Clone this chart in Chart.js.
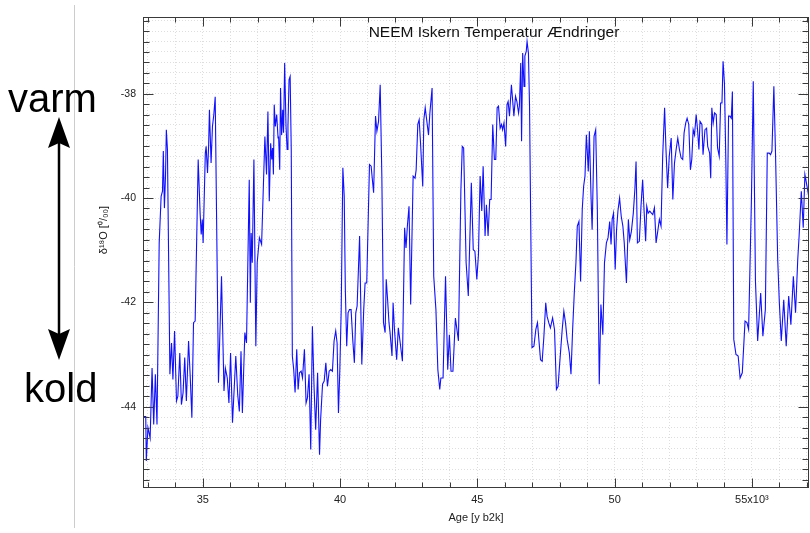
<!DOCTYPE html>
<html>
<head>
<meta charset="utf-8">
<title>NEEM Iskern Temperatur Ændringer</title>
<script src="https://cdn.jsdelivr.net/npm/chart.js@4.4.1/dist/chart.umd.min.js"></script>
<style>
  html, body { margin: 0; padding: 0; background: #fff; }
  #wrap { width: 810px; height: 533px; }
</style>
</head>
<body>
<div id="wrap"><canvas id="neemChart" width="810" height="533"></canvas></div>
<script>
'use strict';

// Data (age in ka b2k, d18O in permil)

let ages = [
  32.82, 32.92, 32.94, 33.00, 33.08, 33.15, 33.21, 33.27, 33.33, 33.41,
  33.48, 33.53, 33.56, 33.60, 33.64, 33.67, 33.71, 33.80, 33.86, 33.91,
  33.97, 34.04, 34.09, 34.16, 34.22, 34.28, 34.34, 34.40, 34.48, 34.54,
  34.60, 34.66, 34.72, 34.83, 34.90, 34.94, 34.98, 35.01, 35.09, 35.12,
  35.17, 35.21, 35.24, 35.30, 35.35, 35.40, 35.45, 35.57, 35.68, 35.77,
  35.82, 35.89, 35.95, 36.01, 36.08, 36.20, 36.27, 36.33, 36.39, 36.44,
  36.53, 36.59, 36.69, 36.73, 36.76, 36.80, 36.86, 36.93, 36.98, 37.06,
  37.14, 37.26, 37.32, 37.37, 37.42, 37.47, 37.51, 37.54, 37.57, 37.60,
  37.64, 37.69, 37.74,
  37.76, 37.80, 37.83, 37.87, 37.91, 37.94, 37.98, 38.03, 38.07, 38.10,
  38.14, 38.18, 38.22, 38.26, 38.31, 38.36, 38.42, 38.47, 38.52, 38.58,
  38.63, 38.70, 38.76, 38.81, 38.87, 38.93, 38.99, 39.05, 39.11, 39.18,
  39.25, 39.29, 39.36, 39.42, 39.48, 39.54, 39.60, 39.66, 39.72, 39.78,
  39.84, 39.89, 39.94, 39.99, 40.04, 40.10, 40.15, 40.19, 40.24, 40.29,
  40.34, 40.40, 40.46, 40.52, 40.57, 40.62, 40.71, 40.79, 40.86, 40.91,
  40.97, 41.07, 41.13, 41.22, 41.29, 41.34, 41.40, 41.46, 41.52, 41.58,
  41.64, 41.68, 41.73, 41.78, 41.82, 41.89, 41.93, 41.98, 42.06, 42.12,
  42.19, 42.27,
  42.35, 42.40, 42.45, 42.51, 42.57, 42.66, 42.73, 42.77, 42.83, 42.88,
  42.93, 43.01, 43.05, 43.10, 43.16, 43.22, 43.27, 43.35, 43.41, 43.49,
  43.56, 43.63, 43.67, 43.75, 43.84, 43.92, 43.98, 44.04, 44.11, 44.20,
  44.31, 44.40, 44.45, 44.50, 44.59, 44.67, 44.78, 44.85, 44.91, 44.98,
  45.04, 45.10, 45.16, 45.21, 45.28, 45.33, 45.39, 45.45, 45.50, 45.56,
  45.62, 45.67, 45.72, 45.77, 45.83, 45.88, 45.92, 45.97, 46.03, 46.08,
  46.12, 46.17, 46.24, 46.33, 46.39, 46.44, 46.50, 46.53, 46.58, 46.61,
  46.65, 46.70, 46.73, 46.78, 46.81, 46.86, 46.90, 46.99, 47.06, 47.13,
  47.19,
  47.30, 47.36, 47.42, 47.49, 47.54, 47.60, 47.66, 47.74, 47.81, 47.88,
  47.94, 48.00, 48.09, 48.15, 48.21, 48.27, 48.35, 48.41, 48.47, 48.53,
  48.59, 48.64, 48.70, 48.76, 48.82, 48.87, 48.92, 48.97, 49.00, 49.04,
  49.08, 49.14, 49.18, 49.25, 49.31, 49.37, 49.44, 49.50, 49.57, 49.63,
  49.70, 49.76, 49.82, 49.87, 49.91, 49.96, 50.02, 50.07, 50.12, 50.18,
  50.24, 50.30, 50.35, 50.43, 50.50, 50.55, 50.61, 50.68, 50.74, 50.78,
  50.83, 50.90, 50.96, 51.02, 51.07, 51.13, 51.17, 51.22, 51.28, 51.34,
  51.39, 51.45, 51.51, 51.57, 51.63, 51.69, 51.75,
  51.82, 51.87, 51.93, 51.99, 52.06, 52.12, 52.18, 52.24, 52.30, 52.36,
  52.42, 52.48, 52.53, 52.59, 52.64, 52.70, 52.76, 52.81, 52.86, 52.91,
  52.97, 53.02, 53.07, 53.11, 53.18, 53.22, 53.29, 53.35, 53.39, 53.46,
  53.50, 53.54, 53.59, 53.64, 53.70, 53.75, 53.81, 53.86, 53.91, 53.95,
  54.00, 54.05, 54.09, 54.15, 54.20, 54.25, 54.29, 54.34, 54.42, 54.50,
  54.57, 54.65, 54.75, 54.82, 54.88, 54.98, 55.05, 55.13, 55.21, 55.32,
  55.40, 55.49, 55.56, 55.63, 55.68, 55.73, 55.80, 55.86, 55.94, 56.00,
  56.07, 56.16, 56.25, 56.34, 56.42, 56.51, 56.59, 56.67, 56.72, 56.80,
  56.87, 56.93, 57.01, 57.09
];

let d18O = [
  -44.19, -44.19, -45.04, -44.40, -44.60, -43.26, -44.34, -43.38, -44.34, -40.86,
  -39.97, -39.87, -39.10, -40.19, -39.58, -38.69, -39.07, -43.38, -42.78, -43.48,
  -42.55, -43.89, -43.80, -42.97, -43.96, -43.73, -43.06, -43.89, -42.74, -43.42,
  -44.21, -42.39, -42.36, -39.26, -40.29, -40.70, -40.41, -40.86, -39.14, -39.01,
  -39.52, -39.01, -38.31, -39.33, -38.63, -38.40, -38.06, -43.54, -41.50, -43.70,
  -43.26, -43.45, -43.93, -42.97, -44.31, -43.03, -43.77, -44.09, -42.94, -44.12,
  -42.58, -42.78, -39.65, -42.01, -40.67, -41.24, -39.26, -42.84, -41.24, -40.76,
  -40.89, -38.82, -39.55, -38.34, -40.06, -38.95, -39.26, -39.04, -39.55, -38.21,
  -38.63, -38.40, -38.85,
  -38.82, -39.46, -37.89, -38.79, -38.31, -38.75, -37.41, -38.63, -39.07, -38.63,
  -37.73, -37.67, -39.07, -43.03, -43.29, -43.73, -42.90, -43.67, -43.35, -43.32,
  -43.45, -42.90, -43.93, -43.83, -43.38, -44.82, -42.46, -43.61, -44.44, -43.35,
  -44.92, -44.25, -43.57, -43.51, -43.16, -43.61, -43.32, -43.29, -43.32, -42.74,
  -42.55, -42.78, -44.12, -43.29, -42.14, -39.42, -39.97, -41.75, -42.84, -42.20,
  -42.14, -42.14, -42.71, -43.16, -42.20, -42.07, -40.73, -43.19, -42.14, -41.63,
  -41.63, -39.36, -39.39, -39.90, -38.43, -38.72, -38.53, -37.83, -39.58, -42.39,
  -42.58, -41.56, -41.95, -42.39, -42.58, -43.03, -42.01, -42.52, -43.10, -42.49,
  -42.78, -43.13,
  -40.57, -40.96, -40.54, -40.16, -42.04, -39.58, -39.62, -39.46, -38.59, -38.50,
  -38.95, -39.78, -38.50, -38.27, -38.53, -38.79, -38.37, -37.89, -41.50, -42.14,
  -43.29, -43.67, -43.45, -43.45, -41.50, -43.29, -42.62, -43.32, -43.32, -42.30,
  -42.74, -39.84, -39.01, -39.04, -41.24, -41.88, -39.71, -40.99, -41.02, -41.56,
  -41.08, -39.58, -40.25, -39.39, -40.73, -40.13, -40.73, -40.03, -40.03, -38.59,
  -39.26, -39.26, -38.27, -38.24, -38.66, -38.59, -38.69, -38.56, -39.01, -38.21,
  -38.15, -38.43, -37.83, -38.43, -38.05, -38.15, -38.37, -38.24, -37.41, -38.91,
  -37.22, -37.86, -37.28, -37.19, -37.00, -37.22, -38.24, -42.87, -42.84, -42.52,
  -42.39,
  -43.10, -43.13, -42.68, -42.01, -42.27, -42.39, -42.49, -42.30, -42.52, -43.67,
  -43.61, -43.16, -42.52, -42.17, -42.39, -42.71, -42.97, -43.38, -42.52, -41.82,
  -41.24, -40.54, -40.45, -41.60, -40.22, -39.78, -39.58, -38.79, -39.07, -39.49,
  -38.72, -39.97, -40.61, -38.82, -38.69, -40.22, -43.57, -42.04, -42.62, -41.24,
  -40.86, -40.76, -40.45, -40.89, -40.41, -40.29, -41.37, -40.61, -40.25, -40.00,
  -40.35, -40.54, -40.86, -41.63, -40.41, -40.80, -40.64, -40.29, -39.81, -39.30,
  -40.86, -40.83, -40.16, -39.65, -40.22, -40.83, -40.16, -40.29, -40.25, -40.29,
  -40.32, -40.19, -40.86, -40.64, -40.41, -40.54, -39.20,
  -38.27, -39.07, -39.81, -39.20, -38.85, -40.03, -39.33, -39.07, -38.85, -39.07,
  -39.23, -39.26, -38.75, -38.56, -38.47, -38.59, -39.46, -39.26, -38.69, -38.79,
  -38.40, -38.69, -39.07, -38.53, -38.59, -39.17, -38.69, -38.66, -39.01, -39.14,
  -39.62, -38.27, -38.56, -38.37, -38.40, -39.04, -39.20, -38.18, -38.18, -37.38,
  -37.80, -39.26, -40.89, -38.43, -38.43, -38.47, -37.96, -42.71, -43.00, -43.03,
  -43.45, -43.35, -42.36, -42.39, -42.52, -40.10, -37.76, -41.60, -42.74, -41.82,
  -42.65, -42.14, -39.14, -39.14, -39.17, -39.10, -37.86, -39.14, -41.18, -42.01,
  -42.74, -41.95, -42.84, -41.88, -42.43, -41.50, -42.20, -41.18, -40.73, -39.87,
  -40.57, -39.55, -39.78, -40.03
];

// Axis ranges and tick labels

let xMin = 32.82;
let xMax = 57.08;
let yMin = -45.54;
let yMax = -36.53;

let xTickValues = [35, 40, 45, 50, 55];
let xTickLabels = ['35', '40', '45', '50', '55x10\u00b3'];
let yTickValues = [-38, -40, -42, -44];
let yTickLabels = ['-38', '-40', '-42', '-44'];

let chartTitle = 'NEEM Iskern Temperatur \u00c6ndringer';
let xTitle = 'Age [y b2k]';
let yTitle = '\u03b4\u00b9\u2078O [\u2070/\u2080\u2080]';
let warmLabel = 'varm';
let coldLabel = 'kold';

//Helper Functions

function findLabel(values, labels, v) {
  for (let i = 0; i < values.length; i++) {
    if (Math.abs(values[i] - v) < 1e-6) {
      return labels[i];
    }
  }
  return '';
}

function crisp(v) {
  return Math.round(v) + 0.5;
}

// frame, inner ticks, titles and the warm/cold arrow on the left
const decorations = {
  id: 'decorations',
  beforeDraw(chart) {
    let ctx = chart.ctx;
    ctx.save();
    ctx.fillStyle = '#ffffff';
    ctx.fillRect(0, 0, chart.width, chart.height);
    ctx.restore();
  },
  afterDraw(chart) {
    let ctx = chart.ctx;
    let area = chart.chartArea;
    let xs = chart.scales.x;
    let ys = chart.scales.y;
    let left = crisp(area.left);
    let right = crisp(area.right) - 1;
    let top = crisp(area.top);
    let bottom = crisp(area.bottom);

    ctx.save();
    ctx.strokeStyle = '#3a3a3a';
    ctx.lineWidth = 1;
    ctx.beginPath();

    for (let i = 0; i < xs.ticks.length; i++) {
      let v = xs.ticks[i].value;
      let px = crisp(xs.getPixelForValue(v));
      let len = Math.abs(v % 5) < 1e-6 ? 9 : 5;
      ctx.moveTo(px, bottom);
      ctx.lineTo(px, bottom - len);
      ctx.moveTo(px, top);
      ctx.lineTo(px, top + len);
    }
    for (let i = 0; i < ys.ticks.length; i++) {
      let v = ys.ticks[i].value;
      let py = crisp(ys.getPixelForValue(v));
      let len = Math.round(v * 10) % 20 === 0 ? 10 : 6;
      ctx.moveTo(left, py);
      ctx.lineTo(left + len, py);
      ctx.moveTo(right, py);
      ctx.lineTo(right - len, py);
    }
    ctx.stroke();

    ctx.strokeRect(left, top, right - left, bottom - top);

    // title inside the plot
    ctx.fillStyle = '#111111';
    ctx.font = '15.5px "Liberation Sans", Arial, sans-serif';
    ctx.textAlign = 'center';
    ctx.textBaseline = 'alphabetic';
    ctx.fillText(chartTitle, 494, 37);

    // y axis title
    ctx.save();
    ctx.translate(104, 230);
    ctx.rotate(-Math.PI / 2);
    ctx.font = '11px "Liberation Sans", Arial, sans-serif';
    ctx.textAlign = 'center';
    ctx.textBaseline = 'middle';
    ctx.fillText(yTitle, 0, 0);
    ctx.restore();

    // separator line
    ctx.strokeStyle = '#cccccc';
    ctx.beginPath();
    ctx.moveTo(74.5, 5);
    ctx.lineTo(74.5, 528);
    ctx.stroke();

    // warm / cold labels
    ctx.fillStyle = '#000000';
    ctx.font = '40px "Liberation Sans", Arial, sans-serif';
    ctx.textAlign = 'left';
    ctx.textBaseline = 'alphabetic';
    ctx.fillText(warmLabel, 8, 112);
    ctx.fillText(coldLabel, 24, 402);

    // double arrow
    ctx.strokeStyle = '#000000';
    ctx.lineWidth = 2.5;
    ctx.beginPath();
    ctx.moveTo(59, 140);
    ctx.lineTo(59, 337);
    ctx.stroke();
    ctx.beginPath();
    ctx.moveTo(59, 117);
    ctx.lineTo(70, 148);
    ctx.lineTo(59, 143);
    ctx.lineTo(48, 148);
    ctx.closePath();
    ctx.moveTo(59, 360);
    ctx.lineTo(70, 329);
    ctx.lineTo(59, 334);
    ctx.lineTo(48, 329);
    ctx.closePath();
    ctx.fill();

    ctx.restore();
  }
};

//Chart

let points = [];
for (let i = 0; i < ages.length; i++) {
  points.push({ x: ages[i], y: d18O[i] });
}

let gridColor = 'rgba(0, 0, 0, 0.13)';

let ctx = document.getElementById('neemChart').getContext('2d');
const neemChart = new Chart(ctx, {
  type: 'line',
  data: {
    datasets: [{
      label: 'NEEM d18O',
      data: points,
      borderColor: '#1010ff',
      borderWidth: 1.1,
      pointRadius: 0,
      tension: 0,
      fill: false
    }]
  },
  plugins: [decorations],
  options: {
    responsive: false,
    animation: false,
    layout: {
      padding: { top: 17, right: 1, left: 0, bottom: 0 }
    },
    plugins: {
      legend: { display: false },
      tooltip: { enabled: false }
    },
    scales: {
      x: {
        type: 'linear',
        min: xMin,
        max: xMax,
        afterFit: function (scale) { scale.height = 46; },
        // invisible outer tick marks push the labels down, so no label padding is needed
        grid: { color: gridColor, drawTicks: true, tickLength: 6, tickColor: 'rgba(0,0,0,0)', borderDash: [1, 2] },
        border: { display: false, dash: [1, 2] },
        ticks: {
          stepSize: 1,
          includeBounds: false,
          autoSkip: false,
          maxRotation: 0,
          padding: 0,
          color: '#222222',
          font: { family: '"Liberation Sans", Arial, sans-serif', size: 11 },
          callback: function (value) {
            return findLabel(xTickValues, xTickLabels, value);
          }
        },
        title: {
          display: true,
          text: xTitle,
          color: '#222222',
          font: { family: '"Liberation Sans", Arial, sans-serif', size: 11 },
          padding: { top: 0, bottom: 8 }
        }
      },
      y: {
        type: 'linear',
        min: yMin,
        max: yMax,
        afterFit: function (scale) { scale.width = 143; },
        grid: { color: gridColor, drawTicks: false, borderDash: [1, 2] },
        border: { display: false, dash: [1, 2] },
        ticks: {
          stepSize: 0.2,
          includeBounds: false,
          autoSkip: false,
          maxTicksLimit: 1000,
          padding: 7,
          color: '#222222',
          font: { family: '"Liberation Sans", Arial, sans-serif', size: 10.5 },
          callback: function (value) {
            return findLabel(yTickValues, yTickLabels, value);
          }
        }
      }
    }
  }
});
</script>
</body>
</html>
